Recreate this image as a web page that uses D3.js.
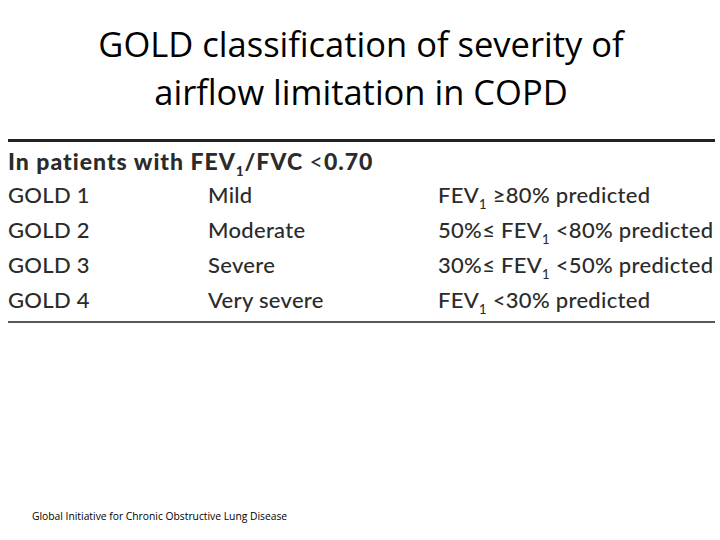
<!DOCTYPE html>
<html><head><meta charset="utf-8">
<script src="https://cdn.jsdelivr.net/npm/d3@7"></script>
<style>body{margin:0;background:#fff}</style>
</head><body>
<script>
const titleLines = ["GOLD classification of severity of", "airflow limitation in COPD"];
const headerParts = ["In patients with FEV", "1", "/FVC ", "<", "0.70"];
const grades = ["GOLD 1", "GOLD 2", "GOLD 3", "GOLD 4"];
const severities = ["Mild", "Moderate", "Severe", "Very severe"];
const criteriaPre = ["", "50%\u2264 ", "30%\u2264 ", ""];
const criteriaPost = [" \u226580% predicted", " <80% predicted", " <50% predicted", " <30% predicted"];
const footer = "Global Initiative for Chronic Obstructive Lung Disease";

const W = 720, H = 540;
const svg = d3.select("body").append("svg").attr("width", W).attr("height", H);

const titleFont = "'Open Sans', 'Liberation Sans', sans-serif";
const tableFont = "Lato, 'Open Sans', sans-serif";
const ink = "#2b2b2b";

svg.selectAll("text.title").data(titleLines).join("text")
  .attr("class", "title")
  .attr("x", 361).attr("y", (d, i) => 57 + i * 48)
  .attr("text-anchor", "middle")
  .attr("font-family", titleFont).attr("font-size", 34.5)
  .attr("fill", "#000")
  .text(d => d);

// rules
svg.append("line").attr("x1", 8).attr("x2", 715).attr("y1", 140.5).attr("y2", 140.5)
  .attr("stroke", "#222").attr("stroke-width", 3);
svg.append("line").attr("x1", 8).attr("x2", 715).attr("y1", 322).attr("y2", 322)
  .attr("stroke", "#222").attr("stroke-width", 1.5);

// header
const hdr = svg.append("text").attr("x", 8).attr("y", 170)
  .attr("font-family", tableFont).attr("font-size", 23).attr("font-weight", 900)
  .attr("letter-spacing", 1.0).attr("fill", ink);
hdr.append("tspan").text(headerParts[0]);
hdr.append("tspan").attr("font-size", 13).attr("dy", 6).text(headerParts[1]);
hdr.append("tspan").attr("dy", -6).text(headerParts[2]);
hdr.append("tspan").attr("font-weight", "normal").text(headerParts[3]);
hdr.append("tspan").text(headerParts[4]);

const y = d3.scaleBand().domain(grades).range([186, 326]).padding(0);
const x = d3.scaleOrdinal().domain(["grade", "sev", "crit"]).range([8, 208, 438]);

const rows = svg.selectAll("g.row").data(grades).join("g").attr("class", "row")
  .attr("transform", d => `translate(0, ${y(d) + 17})`);

const cellStyle = sel => sel.attr("font-family", tableFont).attr("font-size", 22)
  .attr("letter-spacing", 0.3).attr("font-weight", 500).attr("fill", ink);

rows.append("text").attr("x", x("grade")).call(cellStyle).text(d => d);
rows.append("text").attr("x", x("sev")).call(cellStyle).text((d, i) => severities[i]);
rows.each(function(d, i) {
  const t = d3.select(this).append("text").attr("x", x("crit")).call(cellStyle);
  t.append("tspan").text(criteriaPre[i] + "FEV");
  t.append("tspan").attr("font-size", 13).attr("dy", 6).text("1");
  t.append("tspan").attr("dy", -6).text(criteriaPost[i]);
});

svg.append("text").attr("x", 32).attr("y", 520)
  .attr("font-family", titleFont).attr("font-size", 10.3).attr("fill", "#000")
  .text(footer);
</script>
</body></html>
